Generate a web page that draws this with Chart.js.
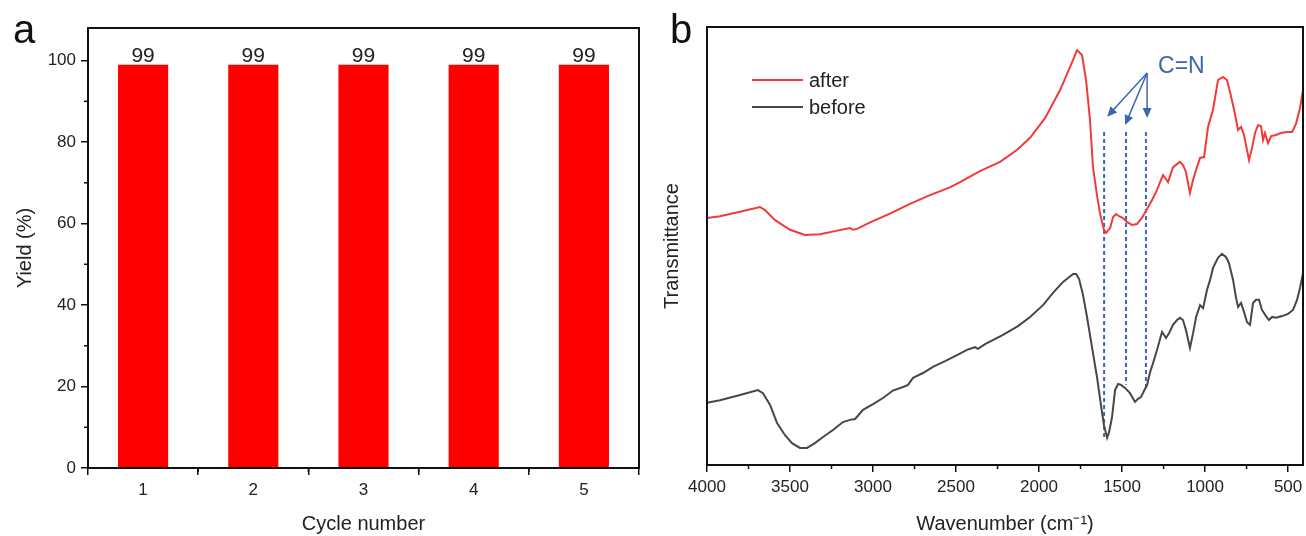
<!DOCTYPE html>
<html>
<head>
<meta charset="utf-8">
<script src="https://cdn.jsdelivr.net/npm/chart.js@4.4.0/dist/chart.umd.min.js"></script>
<style>
  html, body { margin: 0; padding: 0; background: #fff; }
  #wrap { position: relative; width: 1306px; height: 536px; }
  canvas { position: absolute; top: 0; }
  #cA { left: 0; }
  #cB { left: 650px; }
</style>
</head>
<body>
<div id="wrap">
  <canvas id="cA" width="650" height="536"></canvas>
  <canvas id="cB" width="656" height="536"></canvas>
</div>
<script>
// panel a - recycling yield
var cycles = ['1', '2', '3', '4', '5'];
var yieldValues = [99, 99, 99, 99, 99];

// panel b - FTIR spectra (arbitrary transmittance units, 0-100)
var wnTicks = [4000, 3500, 3000, 2500, 2000, 1500, 1000, 500];
var wnAfter = [4000, 3922, 3801, 3681, 3651, 3590, 3500, 3410, 3319, 3229, 3139, 3120, 3096, 3018, 2898, 2777, 2657, 2536, 2476, 2356, 2235, 2133, 2054, 1964, 1873, 1813, 1771, 1741, 1717, 1693, 1675, 1651, 1633, 1609, 1596, 1572, 1554, 1536, 1518, 1494, 1470, 1440, 1410, 1380, 1343, 1319, 1289, 1271, 1253, 1223, 1193, 1169, 1151, 1133, 1115, 1091, 1072, 1054, 1030, 1006, 982, 952, 922, 892, 868, 850, 825, 801, 783, 765, 747, 735, 717, 699, 681, 663, 651, 639, 621, 602, 578, 542, 506, 476, 452, 428, 410];
var tAfter = [56.4, 56.8, 57.8, 58.9, 58.2, 55.9, 53.7, 52.5, 52.7, 53.4, 54.1, 53.7, 53.9, 55.4, 57.4, 59.6, 61.6, 63.4, 64.6, 67.1, 69.2, 71.9, 74.7, 79.2, 85.6, 90.9, 94.7, 93.6, 87.9, 78.8, 68.0, 61.6, 57.5, 53.7, 53.0, 54.1, 56.6, 57.3, 56.8, 56.4, 55.5, 54.8, 55.0, 56.4, 58.9, 60.5, 62.8, 64.6, 66.2, 64.6, 68.0, 68.7, 69.2, 68.5, 66.9, 62.1, 65.1, 67.4, 70.1, 70.3, 77.2, 81.1, 87.9, 88.6, 87.9, 85.2, 81.1, 76.5, 77.2, 75.3, 71.9, 69.6, 72.4, 75.8, 77.6, 77.4, 74.2, 75.8, 73.5, 75.1, 75.3, 75.8, 76.0, 76.0, 77.9, 81.5, 85.6];
var wnBefore = [4000, 3922, 3801, 3693, 3663, 3620, 3578, 3530, 3488, 3440, 3398, 3350, 3301, 3241, 3181, 3139, 3108, 3060, 3000, 2940, 2880, 2819, 2789, 2759, 2699, 2639, 2566, 2494, 2434, 2386, 2368, 2325, 2217, 2127, 2054, 1976, 1916, 1855, 1795, 1777, 1759, 1735, 1711, 1681, 1651, 1627, 1609, 1590, 1578, 1560, 1542, 1524, 1506, 1482, 1452, 1422, 1404, 1386, 1368, 1349, 1331, 1313, 1289, 1259, 1235, 1217, 1193, 1169, 1151, 1133, 1115, 1091, 1072, 1054, 1030, 1012, 988, 970, 952, 922, 898, 874, 856, 831, 813, 801, 783, 765, 747, 729, 711, 693, 675, 657, 645, 633, 615, 596, 572, 536, 500, 470, 446, 428, 410];
var tBefore = [14.2, 14.8, 16.0, 17.1, 16.4, 13.7, 9.6, 6.8, 5.0, 3.9, 3.9, 5.0, 6.4, 8.0, 9.8, 10.3, 10.5, 12.6, 13.9, 15.3, 17.0, 17.8, 18.3, 19.9, 21.0, 22.4, 23.7, 25.1, 26.3, 26.9, 26.5, 27.6, 29.7, 31.7, 33.8, 36.5, 39.3, 41.8, 43.6, 43.6, 42.5, 38.8, 33.8, 26.9, 20.1, 13.7, 9.1, 6.2, 7.5, 11.0, 17.1, 18.5, 18.3, 17.6, 16.4, 14.4, 15.1, 15.5, 16.9, 18.3, 21.2, 23.3, 26.3, 30.4, 29.0, 30.1, 32.0, 33.1, 33.6, 33.1, 30.8, 26.7, 30.1, 33.8, 36.5, 35.8, 40.0, 42.2, 45.0, 47.3, 48.2, 47.5, 46.1, 42.2, 38.1, 36.1, 37.0, 34.9, 32.6, 32.0, 37.0, 37.7, 37.7, 35.4, 34.7, 34.0, 33.1, 33.8, 33.6, 34.0, 34.5, 35.4, 37.7, 40.4, 43.8];

// C=N guide lines: wavenumber, top and bottom of the dashed line
var cnPeaks = [1608, 1476, 1356];
var cnTop = [76.0, 76.0, 76.0];
var cnBottom = [6.4, 18.3, 17.6];
// arrow tips for the C=N label
var arrowFrom = { x: 1349, y: 89.5 };
var arrowTipX = [1590, 1482, 1349];
var arrowTipY = [79.5, 77.6, 79.2];

Chart.defaults.font.family = '"Liberation Sans", Arial, sans-serif';
Chart.defaults.color = '#222';

var tickFont = { size: 17 };
var titleFont = { size: 20 };
var blue = '#3d66ae';

// frame around plot area + minor ticks + panel letter
var framePlugin = {
    id: 'frame',
    afterDraw: function (chart, args, opts) {
        var ctx = chart.ctx, a = chart.chartArea;
        ctx.save();
        ctx.strokeStyle = '#111';
        ctx.lineWidth = 2;
        ctx.strokeRect(a.left, a.top, a.right - a.left, a.bottom - a.top);
        ctx.lineWidth = 1.5;
        (opts.minorX || []).forEach(function (v) {
            var px = chart.scales.x.getPixelForValue(v);
            ctx.beginPath(); ctx.moveTo(px, a.bottom); ctx.lineTo(px, a.bottom + 4); ctx.stroke();
        });
        (opts.minorY || []).forEach(function (v) {
            var py = chart.scales.y.getPixelForValue(v);
            ctx.beginPath(); ctx.moveTo(a.left, py); ctx.lineTo(a.left - 4, py); ctx.stroke();
        });
        ctx.fillStyle = '#111';
        ctx.font = '40px "Liberation Sans", Arial, sans-serif';
        ctx.textAlign = 'left';
        ctx.textBaseline = 'alphabetic';
        ctx.fillText(opts.letter, opts.letterX, 43);
        ctx.restore();
    }
};

// "99" over each bar
var barLabels = {
    id: 'barLabels',
    afterDatasetsDraw: function (chart) {
        var ctx = chart.ctx;
        var meta = chart.getDatasetMeta(0);
        ctx.save();
        ctx.fillStyle = '#222';
        ctx.font = '21px "Liberation Sans", Arial, sans-serif';
        ctx.textAlign = 'center';
        ctx.textBaseline = 'alphabetic';
        meta.data.forEach(function (bar, i) {
            ctx.fillText(String(yieldValues[i]), bar.x, bar.y - 3);
        });
        ctx.restore();
    }
};

// legend, arrows and C=N label for panel b
var ftirDecor = {
    id: 'ftirDecor',
    afterDatasetsDraw: function (chart) {
        var ctx = chart.ctx, x = chart.scales.x, y = chart.scales.y;
        ctx.save();
        // legend
        var items = [[chart.data.datasets[0], 80], [chart.data.datasets[1], 107]];
        ctx.font = '20px "Liberation Sans", Arial, sans-serif';
        ctx.textBaseline = 'middle';
        ctx.textAlign = 'left';
        items.forEach(function (it) {
            ctx.strokeStyle = it[0].borderColor;
            ctx.lineWidth = 2;
            ctx.beginPath(); ctx.moveTo(102, it[1]); ctx.lineTo(153, it[1]); ctx.stroke();
            ctx.fillStyle = '#222';
            ctx.fillText(it[0].label, 159, it[1] + 1);
        });
        // arrows
        var fx = x.getPixelForValue(arrowFrom.x), fy = y.getPixelForValue(arrowFrom.y);
        ctx.strokeStyle = blue;
        ctx.fillStyle = blue;
        ctx.lineWidth = 1.5;
        arrowTipX.forEach(function (v, i) {
            var tx = x.getPixelForValue(v), ty = y.getPixelForValue(arrowTipY[i]);
            var ang = Math.atan2(ty - fy, tx - fx);
            ctx.beginPath(); ctx.moveTo(fx, fy); ctx.lineTo(tx - 6 * Math.cos(ang), ty - 6 * Math.sin(ang)); ctx.stroke();
            ctx.beginPath();
            ctx.moveTo(tx, ty);
            ctx.lineTo(tx - 10 * Math.cos(ang) + 4.5 * Math.sin(ang), ty - 10 * Math.sin(ang) - 4.5 * Math.cos(ang));
            ctx.lineTo(tx - 10 * Math.cos(ang) - 4.5 * Math.sin(ang), ty - 10 * Math.sin(ang) + 4.5 * Math.cos(ang));
            ctx.closePath(); ctx.fill();
        });
        ctx.font = '23px "Liberation Sans", Arial, sans-serif';
        ctx.textAlign = 'left';
        ctx.fillText('C=N', x.getPixelForValue(1283), y.getPixelForValue(90.9));
        ctx.restore();
    }
};

new Chart(document.getElementById('cA'), {
    type: 'bar',
    data: {
        labels: cycles,
        datasets: [{
            data: yieldValues,
            backgroundColor: '#ff0000',
            borderWidth: 0,
            barPercentage: 0.455,
            categoryPercentage: 1
        }]
    },
    options: {
        responsive: false,
        animation: false,
        devicePixelRatio: 1,
        layout: { padding: { left: 0, top: 28, right: 11, bottom: 0 } },
        plugins: {
            legend: { display: false },
            tooltip: { enabled: false },
            frame: { letter: 'a', letterX: 13, minorX: [0.5, 1.5, 2.5, 3.5], minorY: [10, 30, 50, 70, 90] }
        },
        scales: {
            x: {
                grid: { drawOnChartArea: false, tickLength: 7, color: '#111', lineWidth: 1.5 },
                border: { color: '#111', width: 2 },
                ticks: { font: tickFont, padding: 5, color: '#222' },
                title: { display: true, text: 'Cycle number', font: titleFont, padding: { top: 2, bottom: 0 }, color: '#222' },
                afterFit: function (s) { s.height = 68; s.paddingLeft = 0; s.paddingRight = 0; }
            },
            y: {
                min: 0, max: 108,
                grid: { drawOnChartArea: false, tickLength: 7, color: '#111', lineWidth: 1.5 },
                border: { color: '#111', width: 2 },
                ticks: { stepSize: 20, includeBounds: false, font: tickFont, padding: 5, color: '#222' },
                title: { display: true, text: 'Yield (%)', font: titleFont, padding: { top: 13, bottom: 0 }, color: '#222' },
                afterFit: function (s) { s.width = 88; }
            }
        }
    },
    plugins: [framePlugin, barLabels]
});

function pts(xs, ys) {
    return xs.map(function (v, i) { return { x: v, y: ys[i] }; });
}

var ftirSets = [
    { label: 'after', data: pts(wnAfter, tAfter), borderColor: '#f23a3a', borderWidth: 2 },
    { label: 'before', data: pts(wnBefore, tBefore), borderColor: '#474747', borderWidth: 2 }
];
cnPeaks.forEach(function (wn, i) {
    ftirSets.push({
        label: 'cn' + i,
        data: [{ x: wn, y: cnTop[i] }, { x: wn, y: cnBottom[i] }],
        borderColor: blue,
        borderWidth: 2,
        borderDash: [4, 3]
    });
});

new Chart(document.getElementById('cB'), {
    type: 'line',
    data: { datasets: ftirSets },
    options: {
        responsive: false,
        animation: false,
        devicePixelRatio: 1,
        elements: { point: { radius: 0 }, line: { tension: 0 } },
        layout: { padding: { left: 0, top: 27, right: 3, bottom: 0 } },
        plugins: {
            legend: { display: false },
            tooltip: { enabled: false },
            frame: { letter: 'b', letterX: 20, minorX: [3750, 3250, 2750, 2250, 1750, 1250, 750] }
        },
        scales: {
            x: {
                type: 'linear',
                reverse: true,
                min: 410, max: 4000,
                afterBuildTicks: function (s) { s.ticks = wnTicks.map(function (v) { return { value: v }; }); },
                grid: { drawOnChartArea: false, tickLength: 7, color: '#111', lineWidth: 1.5 },
                border: { color: '#111', width: 2 },
                ticks: { font: tickFont, padding: 5, color: '#222', maxRotation: 0, autoSkip: false,
                         callback: function (v) { return String(v); } },
                title: { display: true, text: 'Wavenumber (cm\u207B\u00B9)', font: titleFont, padding: { top: 2, bottom: 0 }, color: '#222' },
                afterFit: function (s) { s.height = 71; s.paddingLeft = 0; s.paddingRight = 0; }
            },
            y: {
                min: 0, max: 100,
                grid: { display: false },
                border: { color: '#111', width: 2 },
                ticks: { display: false },
                title: { display: true, text: 'Transmittance', font: titleFont, padding: { top: 10, bottom: 0 }, color: '#222' },
                afterFit: function (s) { s.width = 57; }
            }
        }
    },
    plugins: [framePlugin, ftirDecor]
});
</script>
</body>
</html>
